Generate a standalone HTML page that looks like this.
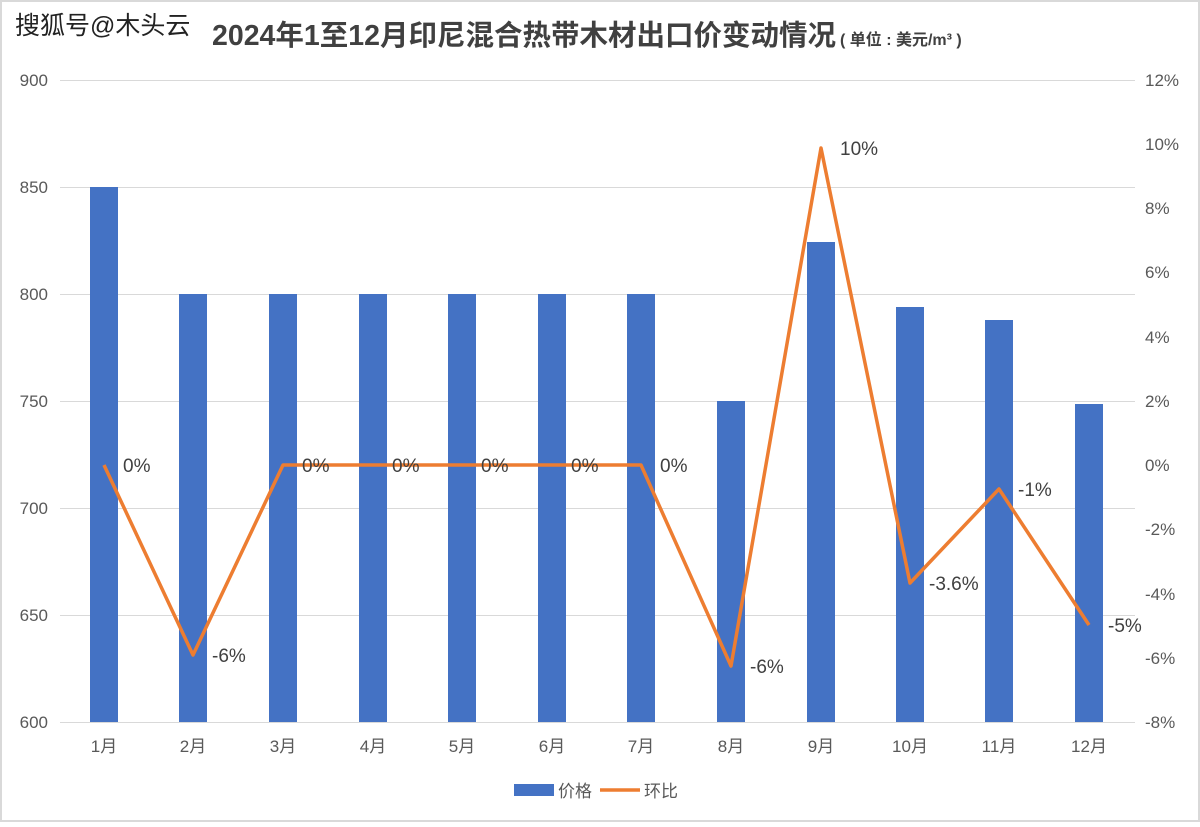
<!DOCTYPE html>
<html><head><meta charset="utf-8"><style>
body{margin:0;background:#fff}
svg text{font-family:"Liberation Sans","Noto Sans CJK SC",sans-serif}
</style></head><body>
<svg width="1200" height="822" xmlns="http://www.w3.org/2000/svg">
<rect x="1" y="1" width="1198" height="820" fill="#fff" stroke="#d9d9d9" stroke-width="2"/>
<text x="15" y="34" font-size="25" fill="#222">搜狐号@木头云</text>
<text x="212" y="45" font-size="28.5" font-weight="bold" fill="#404040">2024年1至12月印尼混合热带木材出口价变动情况<tspan font-size="16" dx="4">( 单位 : 美元/m³ )</tspan></text>
<g stroke="#d9d9d9" stroke-width="1">
<line x1="60" y1="80.5" x2="1135" y2="80.5"/>
<line x1="60" y1="187.5" x2="1135" y2="187.5"/>
<line x1="60" y1="294.5" x2="1135" y2="294.5"/>
<line x1="60" y1="401.5" x2="1135" y2="401.5"/>
<line x1="60" y1="508.5" x2="1135" y2="508.5"/>
<line x1="60" y1="615.5" x2="1135" y2="615.5"/>
<line x1="60" y1="722.5" x2="1135" y2="722.5"/>
</g>
<g font-size="17" fill="#595959" text-anchor="end">
<text x="48" y="86">900</text><text x="48" y="193">850</text><text x="48" y="300">800</text><text x="48" y="407">750</text><text x="48" y="514">700</text><text x="48" y="621">650</text><text x="48" y="728">600</text>
</g>
<g font-size="17" fill="#595959" text-anchor="start">
<text x="1145" y="86">12%</text><text x="1145" y="150">10%</text><text x="1145" y="214">8%</text><text x="1145" y="278">6%</text><text x="1145" y="343">4%</text><text x="1145" y="407">2%</text><text x="1145" y="471">0%</text><text x="1145" y="535">-2%</text><text x="1145" y="600">-4%</text><text x="1145" y="664">-6%</text><text x="1145" y="728">-8%</text>
</g>
<g fill="#4472c4">
<rect x="90" y="187" width="28" height="535"/>
<rect x="179" y="294" width="28" height="428"/>
<rect x="269" y="294" width="28" height="428"/>
<rect x="359" y="294" width="28" height="428"/>
<rect x="448" y="294" width="28" height="428"/>
<rect x="538" y="294" width="28" height="428"/>
<rect x="627" y="294" width="28" height="428"/>
<rect x="717" y="401" width="28" height="321"/>
<rect x="807" y="242" width="28" height="480"/>
<rect x="896" y="307" width="28" height="415"/>
<rect x="985" y="320" width="28" height="402"/>
<rect x="1075" y="404" width="28" height="318"/>
</g>
<polyline fill="none" stroke="#ed7d31" stroke-width="3.5" stroke-linejoin="round" points="104,465 193,655 283,465 373,465 462,465 552,465 641,465 731,666 821,148 910,583 999,489 1089,625"/>
<g font-size="19" fill="#404040">
<text x="123" y="472">0%</text><text x="212" y="662">-6%</text><text x="302" y="472">0%</text><text x="392" y="472">0%</text><text x="481" y="472">0%</text><text x="571" y="472">0%</text><text x="660" y="472">0%</text><text x="750" y="673">-6%</text><text x="840" y="155">10%</text><text x="929" y="590">-3.6%</text><text x="1018" y="496">-1%</text><text x="1108" y="632">-5%</text>
</g>
<g font-size="17" fill="#595959" text-anchor="middle">
<text x="104" y="752">1月</text><text x="193" y="752">2月</text><text x="283" y="752">3月</text><text x="373" y="752">4月</text><text x="462" y="752">5月</text><text x="552" y="752">6月</text><text x="641" y="752">7月</text><text x="731" y="752">8月</text><text x="821" y="752">9月</text><text x="910" y="752">10月</text><text x="999" y="752">11月</text><text x="1089" y="752">12月</text>
</g>
<rect x="514" y="784" width="40" height="12" fill="#4472c4"/>
<text x="558" y="797" font-size="17" fill="#595959">价格</text>
<line x1="600" y1="790" x2="640" y2="790" stroke="#ed7d31" stroke-width="3.5"/>
<text x="644" y="797" font-size="17" fill="#595959">环比</text>
</svg>
</body></html>
